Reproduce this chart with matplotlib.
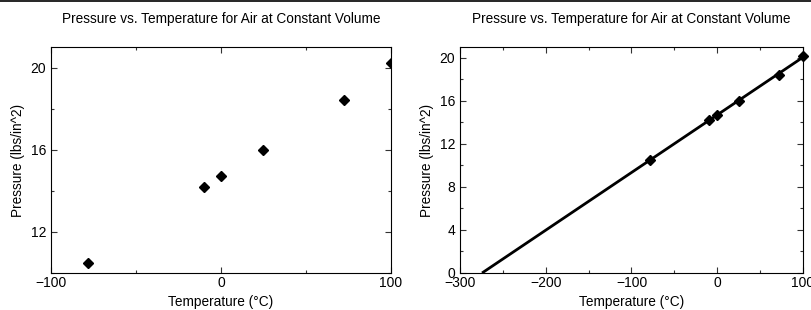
import numpy as np
import matplotlib
matplotlib.use("Agg")
import matplotlib.pyplot as plt
from matplotlib.ticker import MultipleLocator
from matplotlib.lines import Line2D

plt.rcParams["font.family"] = ["Liberation Sans", "DejaVu Sans"]

# temperatura (C) e pressao (lbs/in^2)
temperatura = [-78.5, -10, 0, 25, 72.5, 100]
pressao = [10.5, 14.2, 14.7, 16.0, 18.4, 20.2]

titulo = "Pressure vs. Temperature for Air at Constant Volume"

fig = plt.figure(figsize=(8.12, 3.10), dpi=100)
fig.add_artist(Line2D([0, 1], [0.998, 0.998], color="black", lw=1.2,
                      transform=fig.transFigure))


def estilo(ax):
    ax.tick_params(which="both", direction="in", top=True, right=True,
                   labelsize=10, width=0.8, color="#333333")
    ax.tick_params(which="major", length=4)
    ax.tick_params(which="minor", length=2.5)
    for s in ax.spines.values():
        s.set_linewidth(0.8)
    ax.set_xlabel("Temperature (°C)", fontsize=9.8, labelpad=3.5)
    ax.set_ylabel("Pressure (lbs/in^2)", fontsize=9.8, labelpad=4)
    ax.set_title(titulo, fontsize=9.8, pad=17)


# grafico 1
ax1 = fig.add_axes([51 / 812, 37 / 310, 340 / 812, 226 / 310])
ax1.plot(temperatura, pressao, "D", color="black", ms=5.5)
ax1.set_xlim(-100, 100)
ax1.set_ylim(10, 21)
ax1.xaxis.set_major_locator(MultipleLocator(100))
ax1.xaxis.set_minor_locator(MultipleLocator(50))
ax1.yaxis.set_major_locator(MultipleLocator(4))
ax1.yaxis.set_minor_locator(MultipleLocator(2))
estilo(ax1)
ax1.tick_params(axis="x", pad=2)

# grafico 2 com reta ajustada
m, b = np.polyfit(temperatura, pressao, 1)
x0 = -b / m
xs = np.array([x0, 100])

ax2 = fig.add_axes([460 / 812, 37 / 310, 343 / 812, 226 / 310])
ax2.plot(xs, m * xs + b, color="black", lw=2, solid_capstyle="butt")
ax2.plot(temperatura, pressao, "D", color="black", ms=5.5, clip_on=False)
ax2.set_xlim(-300, 100)
ax2.set_ylim(0, 21)
ax2.xaxis.set_major_locator(MultipleLocator(100))
ax2.xaxis.set_minor_locator(MultipleLocator(50))
ax2.yaxis.set_major_locator(MultipleLocator(4))
ax2.yaxis.set_minor_locator(MultipleLocator(2))
estilo(ax2)
ax2.tick_params(axis="x", pad=2)

fig.savefig("out.png", dpi=100)
